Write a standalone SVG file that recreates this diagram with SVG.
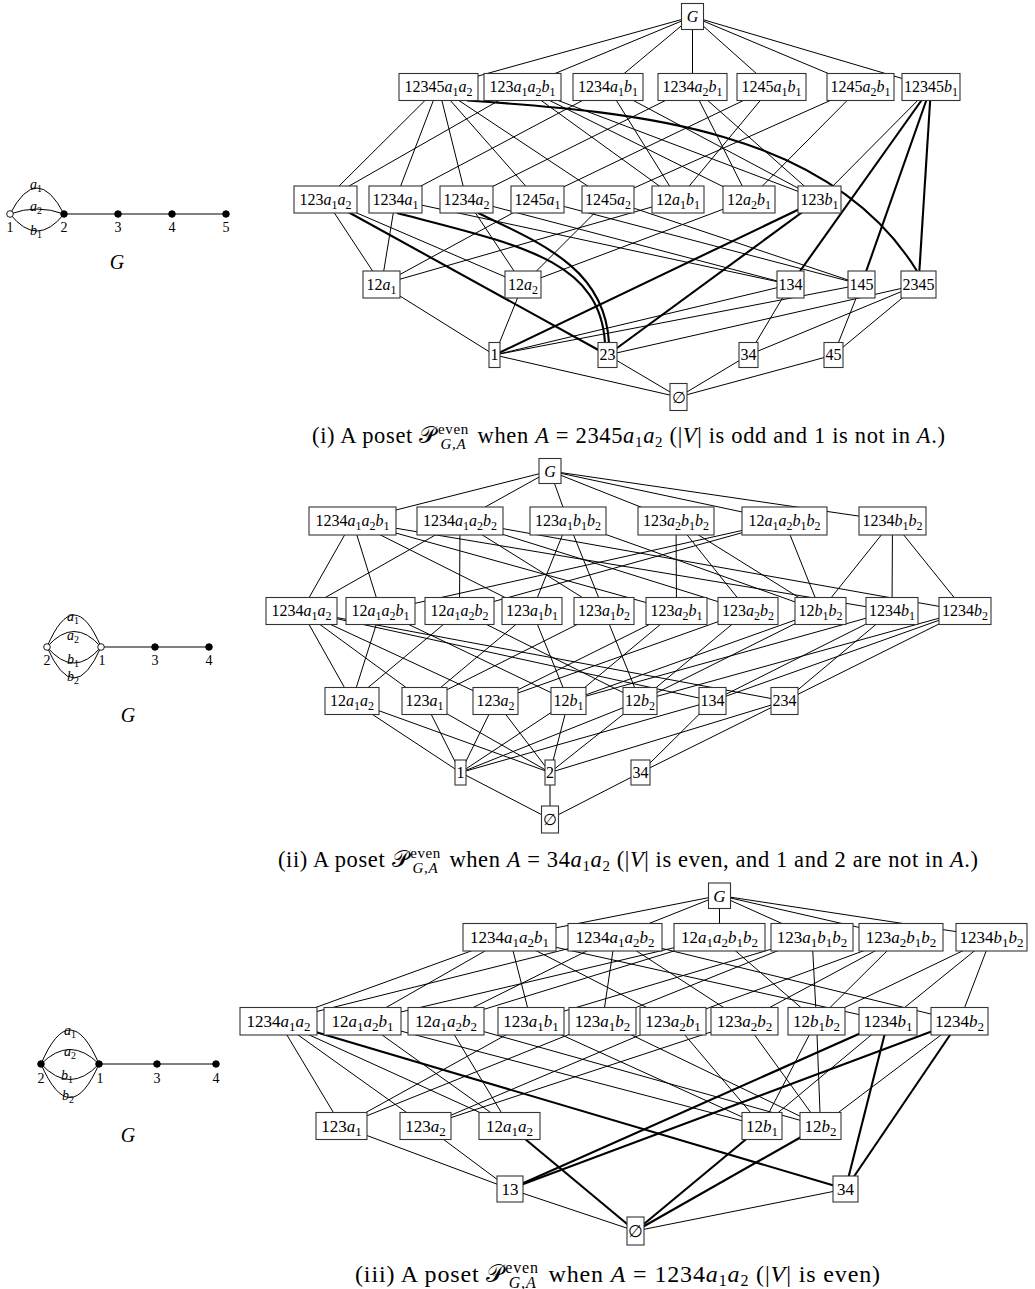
<svg xmlns="http://www.w3.org/2000/svg" width="1035" height="1289" viewBox="0 0 1035 1289">
<style>
.b{fill:#fff;stroke:#333;stroke-width:1.1}
.t{font-family:"Liberation Serif","DejaVu Serif",serif;font-size:16px;text-anchor:middle;fill:#000}
.t3{font-size:17px}
.i{font-style:italic}
.s{font-size:12px}
.t3 .s{font-size:13px}
.e line,.e path{stroke:#000;stroke-width:1;fill:none}
.e .k{stroke-width:2.1}
.cap{font-family:"Liberation Serif","DejaVu Serif",serif;font-size:22.5px;fill:#000}
.cap3{font-size:24px}
.cs{font-size:15px}
.cap3 .cs{font-size:16px}
.gl{font-family:"Liberation Serif","DejaVu Serif",serif;font-size:14px;text-anchor:middle;fill:#000}
.gs{font-size:10px}
.ge{stroke:#000;stroke-width:1;fill:none}
.ov{fill:#fff;stroke:#000;stroke-width:0.9}
.fv{fill:#000;stroke:#000;stroke-width:0.9}
</style>
<rect width="1035" height="1289" fill="#fff"/>

<!-- small graphs -->
<g id="graph-i">
<path class="ge" d="M10,214 Q37,162 64,214 M10,214 Q37,204 64,214 M10,214 Q37,248 64,214 M64,214 H226"/>
<circle class="ov" cx="10" cy="214" r="3.3"/><circle class="fv" cx="64" cy="214" r="3.3"/><circle class="fv" cx="118" cy="214" r="3.3"/><circle class="fv" cx="172" cy="214" r="3.3"/><circle class="fv" cx="226" cy="214" r="3.3"/>
<text class="gl" x="36" y="189"><tspan class="i">a</tspan><tspan class="gs" dy="3">1</tspan></text>
<text class="gl" x="36" y="211"><tspan class="i">a</tspan><tspan class="gs" dy="3">2</tspan></text>
<text class="gl" x="36" y="235"><tspan class="i">b</tspan><tspan class="gs" dy="3">1</tspan></text>
<text class="gl" x="10" y="232">1</text><text class="gl" x="64" y="232">2</text><text class="gl" x="118" y="232">3</text><text class="gl" x="172" y="232">4</text><text class="gl" x="226" y="232">5</text>
<text class="gl i" x="117" y="269" style="font-size:20px">G</text>
</g>
<g id="graph-ii">
<path class="ge" d="M47,647 Q74,583 101,647 M47,647 Q74,616 101,647 M47,647 Q74,679 101,647 M47,647 Q74,709 101,647 M101,647 H209"/>
<circle class="ov" cx="47" cy="647" r="3.3"/><circle class="ov" cx="101" cy="647" r="3.3"/><circle class="fv" cx="155" cy="647" r="3.3"/><circle class="fv" cx="209" cy="647" r="3.3"/>
<text class="gl" x="73" y="621"><tspan class="i">a</tspan><tspan class="gs" dy="3">1</tspan></text>
<text class="gl" x="73" y="640"><tspan class="i">a</tspan><tspan class="gs" dy="3">2</tspan></text>
<text class="gl" x="73" y="664"><tspan class="i">b</tspan><tspan class="gs" dy="3">1</tspan></text>
<text class="gl" x="73" y="681"><tspan class="i">b</tspan><tspan class="gs" dy="3">2</tspan></text>
<text class="gl" x="47" y="665">2</text><text class="gl" x="102" y="665">1</text><text class="gl" x="155" y="665">3</text><text class="gl" x="209" y="665">4</text>
<text class="gl i" x="128" y="722" style="font-size:20px">G</text>
</g>
<g id="graph-iii">
<path class="ge" d="M41,1064 Q70,996 99,1064 M41,1064 Q70,1035 99,1064 M41,1064 Q70,1095 99,1064 M41,1064 Q70,1131 99,1064 M99,1064 H216"/>
<circle class="fv" cx="41" cy="1064" r="3.3"/><circle class="fv" cx="99" cy="1064" r="3.3"/><circle class="fv" cx="157" cy="1064" r="3.3"/><circle class="fv" cx="216" cy="1064" r="3.3"/>
<text class="gl" x="70" y="1035"><tspan class="i">a</tspan><tspan class="gs" dy="3">1</tspan></text>
<text class="gl" x="70" y="1056"><tspan class="i">a</tspan><tspan class="gs" dy="3">2</tspan></text>
<text class="gl" x="67" y="1080"><tspan class="i">b</tspan><tspan class="gs" dy="3">1</tspan></text>
<text class="gl" x="68" y="1100"><tspan class="i">b</tspan><tspan class="gs" dy="3">2</tspan></text>
<text class="gl" x="41" y="1083">2</text><text class="gl" x="100" y="1083">1</text><text class="gl" x="157" y="1083">3</text><text class="gl" x="216" y="1083">4</text>
<text class="gl i" x="128" y="1142" style="font-size:20px">G</text>
</g>

<!-- connectors -->
<g id="connectors-i" class="e">
<line x1="692.5" y1="16.5" x2="438.5" y2="87"/><line x1="692.5" y1="16.5" x2="522.5" y2="87"/><line x1="692.5" y1="16.5" x2="608" y2="87"/><line x1="692.5" y1="16.5" x2="692.5" y2="87"/><line x1="692.5" y1="16.5" x2="771.5" y2="87"/><line x1="692.5" y1="16.5" x2="860.5" y2="87"/><line x1="692.5" y1="16.5" x2="931" y2="87"/>
<line x1="438.5" y1="87" x2="325.5" y2="199.5"/><line x1="438.5" y1="87" x2="395.5" y2="199.5"/><line x1="438.5" y1="87" x2="466.5" y2="199.5"/><line x1="438.5" y1="87" x2="537.5" y2="199.5"/><line x1="438.5" y1="87" x2="608" y2="199.5"/>
<line x1="522.5" y1="87" x2="325.5" y2="199.5"/><line x1="522.5" y1="87" x2="678" y2="199.5"/><line x1="522.5" y1="87" x2="749" y2="199.5"/><line x1="522.5" y1="87" x2="819.5" y2="199.5"/>
<line x1="608" y1="87" x2="395.5" y2="199.5"/><line x1="608" y1="87" x2="678" y2="199.5"/><line x1="608" y1="87" x2="819.5" y2="199.5"/>
<line x1="692.5" y1="87" x2="466.5" y2="199.5"/><line x1="692.5" y1="87" x2="749" y2="199.5"/><line x1="692.5" y1="87" x2="819.5" y2="199.5"/>
<line x1="771.5" y1="87" x2="537.5" y2="199.5"/><line x1="771.5" y1="87" x2="678" y2="199.5"/>
<line x1="860.5" y1="87" x2="608" y2="199.5"/><line x1="860.5" y1="87" x2="749" y2="199.5"/>
<line x1="931" y1="87" x2="819.5" y2="199.5"/>
<line x1="325.5" y1="199.5" x2="381.5" y2="284.5"/><line x1="325.5" y1="199.5" x2="523" y2="284.5"/>
<line x1="395.5" y1="199.5" x2="381.5" y2="284.5"/><line x1="395.5" y1="199.5" x2="790.5" y2="284.5"/>
<line x1="466.5" y1="199.5" x2="523" y2="284.5"/><line x1="466.5" y1="199.5" x2="790.5" y2="284.5"/>
<line x1="537.5" y1="199.5" x2="381.5" y2="284.5"/><line x1="537.5" y1="199.5" x2="861.5" y2="284.5"/>
<line x1="608" y1="199.5" x2="523" y2="284.5"/><line x1="608" y1="199.5" x2="861.5" y2="284.5"/>
<line x1="678" y1="199.5" x2="381.5" y2="284.5"/><line x1="749" y1="199.5" x2="523" y2="284.5"/>
<line x1="381.5" y1="284.5" x2="494.5" y2="355"/><line x1="523" y1="284.5" x2="494.5" y2="355"/>
<line x1="790.5" y1="284.5" x2="494.5" y2="355"/><line x1="790.5" y1="284.5" x2="748.5" y2="355"/>
<line x1="861.5" y1="284.5" x2="494.5" y2="355"/><line x1="861.5" y1="284.5" x2="833.5" y2="355"/>
<line x1="918.5" y1="284.5" x2="607.5" y2="355"/><line x1="918.5" y1="284.5" x2="748.5" y2="355"/><line x1="918.5" y1="284.5" x2="833.5" y2="355"/>
<line x1="494.5" y1="355" x2="678.5" y2="397"/><line x1="607.5" y1="355" x2="678.5" y2="397"/><line x1="748.5" y1="355" x2="678.5" y2="397"/><line x1="833.5" y1="355" x2="678.5" y2="397"/>
<path class="k" d="M467,100.5 C640,112 830,130 917,271"/>
<line class="k" x1="931" y1="87" x2="790.5" y2="284.5"/><line class="k" x1="931" y1="87" x2="861.5" y2="284.5"/><line class="k" x1="931" y1="87" x2="918.5" y2="284.5"/>
<line class="k" x1="325.5" y1="199.5" x2="607.5" y2="355"/>
<path class="k" d="M397,213 C520,245 600,260 605,343"/>
<path class="k" d="M478,213 C545,245 605,270 609,343"/>
<line class="k" x1="819.5" y1="199.5" x2="494.5" y2="355"/><line class="k" x1="819.5" y1="199.5" x2="607.5" y2="355"/>
</g>

<g id="connectors-ii" class="e">
<line x1="550" y1="471" x2="352.5" y2="521"/><line x1="550" y1="471" x2="460" y2="521"/><line x1="550" y1="471" x2="568" y2="521"/><line x1="550" y1="471" x2="676" y2="521"/><line x1="550" y1="471" x2="784.5" y2="521"/><line x1="550" y1="471" x2="892.5" y2="521"/>
<line x1="352.5" y1="521" x2="301.5" y2="611"/><line x1="352.5" y1="521" x2="380.5" y2="611"/><line x1="352.5" y1="521" x2="532" y2="611"/><line x1="352.5" y1="521" x2="676.5" y2="611"/><line x1="352.5" y1="521" x2="892" y2="611"/>
<line x1="460" y1="521" x2="301.5" y2="611"/><line x1="460" y1="521" x2="459.5" y2="611"/><line x1="460" y1="521" x2="604" y2="611"/><line x1="460" y1="521" x2="748" y2="611"/><line x1="460" y1="521" x2="965" y2="611"/>
<line x1="568" y1="521" x2="532" y2="611"/><line x1="568" y1="521" x2="604" y2="611"/><line x1="568" y1="521" x2="820.5" y2="611"/>
<line x1="676" y1="521" x2="676.5" y2="611"/><line x1="676" y1="521" x2="748" y2="611"/><line x1="676" y1="521" x2="820.5" y2="611"/>
<line x1="784.5" y1="521" x2="380.5" y2="611"/><line x1="784.5" y1="521" x2="459.5" y2="611"/><line x1="784.5" y1="521" x2="820.5" y2="611"/>
<line x1="892.5" y1="521" x2="820.5" y2="611"/><line x1="892.5" y1="521" x2="892" y2="611"/><line x1="892.5" y1="521" x2="965" y2="611"/>
<line x1="301.5" y1="611" x2="352" y2="701"/><line x1="301.5" y1="611" x2="424.5" y2="701"/><line x1="301.5" y1="611" x2="495.5" y2="701"/><line x1="301.5" y1="611" x2="712.5" y2="701"/><line x1="301.5" y1="611" x2="784.5" y2="701"/>
<line x1="380.5" y1="611" x2="352" y2="701"/><line x1="380.5" y1="611" x2="568.5" y2="701"/>
<line x1="459.5" y1="611" x2="352" y2="701"/><line x1="459.5" y1="611" x2="640" y2="701"/>
<line x1="532" y1="611" x2="424.5" y2="701"/><line x1="532" y1="611" x2="568.5" y2="701"/>
<line x1="604" y1="611" x2="424.5" y2="701"/><line x1="604" y1="611" x2="640" y2="701"/>
<line x1="676.5" y1="611" x2="495.5" y2="701"/><line x1="676.5" y1="611" x2="568.5" y2="701"/>
<line x1="748" y1="611" x2="495.5" y2="701"/><line x1="748" y1="611" x2="640" y2="701"/>
<line x1="820.5" y1="611" x2="568.5" y2="701"/><line x1="820.5" y1="611" x2="640" y2="701"/>
<line x1="892" y1="611" x2="568.5" y2="701"/><line x1="892" y1="611" x2="712.5" y2="701"/><line x1="892" y1="611" x2="784.5" y2="701"/>
<line x1="965" y1="611" x2="640" y2="701"/><line x1="965" y1="611" x2="712.5" y2="701"/><line x1="965" y1="611" x2="784.5" y2="701"/>
<line x1="352" y1="701" x2="460.5" y2="772.5"/><line x1="352" y1="701" x2="550" y2="772.5"/>
<line x1="424.5" y1="701" x2="460.5" y2="772.5"/><line x1="424.5" y1="701" x2="550" y2="772.5"/>
<line x1="495.5" y1="701" x2="460.5" y2="772.5"/><line x1="495.5" y1="701" x2="550" y2="772.5"/>
<line x1="568.5" y1="701" x2="460.5" y2="772.5"/><line x1="568.5" y1="701" x2="550" y2="772.5"/>
<line x1="640" y1="701" x2="460.5" y2="772.5"/><line x1="640" y1="701" x2="550" y2="772.5"/>
<line x1="712.5" y1="701" x2="460.5" y2="772.5"/><line x1="712.5" y1="701" x2="640.5" y2="772.5"/>
<line x1="784.5" y1="701" x2="550" y2="772.5"/><line x1="784.5" y1="701" x2="640.5" y2="772.5"/>
<line x1="460.5" y1="772.5" x2="550" y2="819"/><line x1="550" y1="772.5" x2="550" y2="819"/><line x1="640.5" y1="772.5" x2="550" y2="819"/>
</g>

<g id="connectors-iii" class="e">
<line x1="719.5" y1="895.5" x2="509.5" y2="937"/><line x1="719.5" y1="895.5" x2="615" y2="937"/><line x1="719.5" y1="895.5" x2="719.5" y2="937"/><line x1="719.5" y1="895.5" x2="812" y2="937"/><line x1="719.5" y1="895.5" x2="901" y2="937"/><line x1="719.5" y1="895.5" x2="991.5" y2="937"/>
<line x1="509.5" y1="937" x2="278.5" y2="1021"/><line x1="509.5" y1="937" x2="362.5" y2="1021"/><line x1="509.5" y1="937" x2="531" y2="1021"/><line x1="509.5" y1="937" x2="673" y2="1021"/><line x1="509.5" y1="937" x2="888" y2="1021"/>
<line x1="615" y1="937" x2="278.5" y2="1021"/><line x1="615" y1="937" x2="446" y2="1021"/><line x1="615" y1="937" x2="602.5" y2="1021"/><line x1="615" y1="937" x2="744.5" y2="1021"/><line x1="615" y1="937" x2="959.5" y2="1021"/>
<line x1="719.5" y1="937" x2="362.5" y2="1021"/><line x1="719.5" y1="937" x2="446" y2="1021"/><line x1="719.5" y1="937" x2="816.5" y2="1021"/>
<line x1="812" y1="937" x2="531" y2="1021"/><line x1="812" y1="937" x2="602.5" y2="1021"/><line x1="812" y1="937" x2="816.5" y2="1021"/>
<line x1="901" y1="937" x2="673" y2="1021"/><line x1="901" y1="937" x2="744.5" y2="1021"/><line x1="901" y1="937" x2="816.5" y2="1021"/>
<line x1="991.5" y1="937" x2="816.5" y2="1021"/><line x1="991.5" y1="937" x2="888" y2="1021"/><line x1="991.5" y1="937" x2="959.5" y2="1021"/>
<line x1="278.5" y1="1021" x2="341.5" y2="1126"/><line x1="278.5" y1="1021" x2="425.5" y2="1126"/><line x1="278.5" y1="1021" x2="509.5" y2="1126"/>
<line x1="362.5" y1="1021" x2="509.5" y2="1126"/><line x1="362.5" y1="1021" x2="762" y2="1126"/>
<line x1="446" y1="1021" x2="509.5" y2="1126"/><line x1="446" y1="1021" x2="820.5" y2="1126"/>
<line x1="531" y1="1021" x2="341.5" y2="1126"/><line x1="531" y1="1021" x2="762" y2="1126"/>
<line x1="602.5" y1="1021" x2="341.5" y2="1126"/><line x1="602.5" y1="1021" x2="820.5" y2="1126"/>
<line x1="673" y1="1021" x2="425.5" y2="1126"/><line x1="673" y1="1021" x2="762" y2="1126"/>
<line x1="744.5" y1="1021" x2="425.5" y2="1126"/><line x1="744.5" y1="1021" x2="820.5" y2="1126"/>
<line x1="816.5" y1="1021" x2="762" y2="1126"/><line x1="816.5" y1="1021" x2="820.5" y2="1126"/>
<line x1="888" y1="1021" x2="762" y2="1126"/><line x1="959.5" y1="1021" x2="820.5" y2="1126"/>
<line x1="341.5" y1="1126" x2="510" y2="1189"/><line x1="425.5" y1="1126" x2="510" y2="1189"/>
<line x1="510" y1="1189" x2="635.5" y2="1231"/><line x1="845.5" y1="1189" x2="635.5" y2="1231"/>
<line class="k" x1="278.5" y1="1021" x2="845.5" y2="1189"/>
<line class="k" x1="888" y1="1021" x2="510" y2="1189"/><line class="k" x1="888" y1="1021" x2="845.5" y2="1189"/>
<line class="k" x1="959.5" y1="1021" x2="510" y2="1189"/><line class="k" x1="959.5" y1="1021" x2="845.5" y2="1189"/>
<line class="k" x1="509.5" y1="1126" x2="635.5" y2="1231"/><line class="k" x1="762" y1="1126" x2="635.5" y2="1231"/><line class="k" x1="820.5" y1="1126" x2="635.5" y2="1231"/>
</g>

<!-- nodes panel i -->
<g id="i-G"><rect class="b" x="681.5" y="3.5" width="22" height="26"/><text class="t" x="692.5" y="22"><tspan class="i">G</tspan></text></g>
<g id="i-12345a1a2"><rect class="b" x="399" y="73.5" width="79" height="27"/><text class="t" x="438.5" y="92">12345<tspan class="i">a</tspan><tspan class="s" dy="4">1</tspan><tspan class="i" dy="-4">a</tspan><tspan class="s" dy="4">2</tspan></text></g>
<g id="i-123a1a2b1"><rect class="b" x="484" y="73.5" width="77" height="27"/><text class="t" x="522.5" y="92">123<tspan class="i">a</tspan><tspan class="s" dy="4">1</tspan><tspan class="i" dy="-4">a</tspan><tspan class="s" dy="4">2</tspan><tspan class="i" dy="-4">b</tspan><tspan class="s" dy="4">1</tspan></text></g>
<g id="i-1234a1b1"><rect class="b" x="573" y="73.5" width="70" height="27"/><text class="t" x="608" y="92">1234<tspan class="i">a</tspan><tspan class="s" dy="4">1</tspan><tspan class="i" dy="-4">b</tspan><tspan class="s" dy="4">1</tspan></text></g>
<g id="i-1234a2b1"><rect class="b" x="658" y="73.5" width="69" height="27"/><text class="t" x="692.5" y="92">1234<tspan class="i">a</tspan><tspan class="s" dy="4">2</tspan><tspan class="i" dy="-4">b</tspan><tspan class="s" dy="4">1</tspan></text></g>
<g id="i-1245a1b1"><rect class="b" x="737" y="73.5" width="69" height="27"/><text class="t" x="771.5" y="92">1245<tspan class="i">a</tspan><tspan class="s" dy="4">1</tspan><tspan class="i" dy="-4">b</tspan><tspan class="s" dy="4">1</tspan></text></g>
<g id="i-1245a2b1"><rect class="b" x="827" y="73.5" width="67" height="27"/><text class="t" x="860.5" y="92">1245<tspan class="i">a</tspan><tspan class="s" dy="4">2</tspan><tspan class="i" dy="-4">b</tspan><tspan class="s" dy="4">1</tspan></text></g>
<g id="i-12345b1"><rect class="b" x="902" y="73.5" width="58" height="27"/><text class="t" x="931" y="92">12345<tspan class="i">b</tspan><tspan class="s" dy="4">1</tspan></text></g>
<g id="i-123a1a2"><rect class="b" x="294" y="186" width="63" height="27"/><text class="t" x="325.5" y="204.5">123<tspan class="i">a</tspan><tspan class="s" dy="4">1</tspan><tspan class="i" dy="-4">a</tspan><tspan class="s" dy="4">2</tspan></text></g>
<g id="i-1234a1"><rect class="b" x="369" y="186" width="53" height="27"/><text class="t" x="395.5" y="204.5">1234<tspan class="i">a</tspan><tspan class="s" dy="4">1</tspan></text></g>
<g id="i-1234a2"><rect class="b" x="440" y="186" width="53" height="27"/><text class="t" x="466.5" y="204.5">1234<tspan class="i">a</tspan><tspan class="s" dy="4">2</tspan></text></g>
<g id="i-1245a1"><rect class="b" x="511" y="186" width="53" height="27"/><text class="t" x="537.5" y="204.5">1245<tspan class="i">a</tspan><tspan class="s" dy="4">1</tspan></text></g>
<g id="i-1245a2"><rect class="b" x="582" y="186" width="52" height="27"/><text class="t" x="608" y="204.5">1245<tspan class="i">a</tspan><tspan class="s" dy="4">2</tspan></text></g>
<g id="i-12a1b1"><rect class="b" x="652" y="186" width="52" height="27"/><text class="t" x="678" y="204.5">12<tspan class="i">a</tspan><tspan class="s" dy="4">1</tspan><tspan class="i" dy="-4">b</tspan><tspan class="s" dy="4">1</tspan></text></g>
<g id="i-12a2b1"><rect class="b" x="723" y="186" width="52" height="27"/><text class="t" x="749" y="204.5">12<tspan class="i">a</tspan><tspan class="s" dy="4">2</tspan><tspan class="i" dy="-4">b</tspan><tspan class="s" dy="4">1</tspan></text></g>
<g id="i-123b1"><rect class="b" x="798" y="186" width="43" height="27"/><text class="t" x="819.5" y="204.5">123<tspan class="i">b</tspan><tspan class="s" dy="4">1</tspan></text></g>
<g id="i-12a1"><rect class="b" x="363" y="271" width="37" height="27"/><text class="t" x="381.5" y="289.5">12<tspan class="i">a</tspan><tspan class="s" dy="4">1</tspan></text></g>
<g id="i-12a2"><rect class="b" x="505" y="271" width="36" height="27"/><text class="t" x="523" y="289.5">12<tspan class="i">a</tspan><tspan class="s" dy="4">2</tspan></text></g>
<g id="i-134"><rect class="b" x="777" y="271" width="27" height="27"/><text class="t" x="790.5" y="289.5">134</text></g>
<g id="i-145"><rect class="b" x="848" y="271" width="27" height="27"/><text class="t" x="861.5" y="289.5">145</text></g>
<g id="i-2345"><rect class="b" x="901" y="271" width="35" height="27"/><text class="t" x="918.5" y="289.5">2345</text></g>
<g id="i-1"><rect class="b" x="489" y="342.5" width="11" height="25"/><text class="t" x="494.5" y="360">1</text></g>
<g id="i-23"><rect class="b" x="598" y="342.5" width="19" height="25"/><text class="t" x="607.5" y="360">23</text></g>
<g id="i-34"><rect class="b" x="739" y="342.5" width="19" height="25"/><text class="t" x="748.5" y="360">34</text></g>
<g id="i-45"><rect class="b" x="824" y="342.5" width="19" height="25"/><text class="t" x="833.5" y="360">45</text></g>
<g id="i-empty"><rect class="b" x="670" y="383.5" width="17" height="27"/><text class="t" x="678.5" y="402.5">∅</text></g>

<!-- nodes panel ii -->
<g id="ii-G"><rect class="b" x="539" y="458.5" width="22" height="25"/><text class="t" x="550" y="476.5"><tspan class="i">G</tspan></text></g>
<g id="ii-1234a1a2b1"><rect class="b" x="309" y="507" width="87" height="28"/><text class="t" x="352.5" y="526">1234<tspan class="i">a</tspan><tspan class="s" dy="4">1</tspan><tspan class="i" dy="-4">a</tspan><tspan class="s" dy="4">2</tspan><tspan class="i" dy="-4">b</tspan><tspan class="s" dy="4">1</tspan></text></g>
<g id="ii-1234a1a2b2"><rect class="b" x="417" y="507" width="86" height="28"/><text class="t" x="460" y="526">1234<tspan class="i">a</tspan><tspan class="s" dy="4">1</tspan><tspan class="i" dy="-4">a</tspan><tspan class="s" dy="4">2</tspan><tspan class="i" dy="-4">b</tspan><tspan class="s" dy="4">2</tspan></text></g>
<g id="ii-123a1b1b2"><rect class="b" x="530" y="507" width="76" height="28"/><text class="t" x="568" y="526">123<tspan class="i">a</tspan><tspan class="s" dy="4">1</tspan><tspan class="i" dy="-4">b</tspan><tspan class="s" dy="4">1</tspan><tspan class="i" dy="-4">b</tspan><tspan class="s" dy="4">2</tspan></text></g>
<g id="ii-123a2b1b2"><rect class="b" x="638" y="507" width="76" height="28"/><text class="t" x="676" y="526">123<tspan class="i">a</tspan><tspan class="s" dy="4">2</tspan><tspan class="i" dy="-4">b</tspan><tspan class="s" dy="4">1</tspan><tspan class="i" dy="-4">b</tspan><tspan class="s" dy="4">2</tspan></text></g>
<g id="ii-12a1a2b1b2"><rect class="b" x="742" y="507" width="85" height="28"/><text class="t" x="784.5" y="526">12<tspan class="i">a</tspan><tspan class="s" dy="4">1</tspan><tspan class="i" dy="-4">a</tspan><tspan class="s" dy="4">2</tspan><tspan class="i" dy="-4">b</tspan><tspan class="s" dy="4">1</tspan><tspan class="i" dy="-4">b</tspan><tspan class="s" dy="4">2</tspan></text></g>
<g id="ii-1234b1b2"><rect class="b" x="859" y="507" width="67" height="28"/><text class="t" x="892.5" y="526">1234<tspan class="i">b</tspan><tspan class="s" dy="4">1</tspan><tspan class="i" dy="-4">b</tspan><tspan class="s" dy="4">2</tspan></text></g>
<g id="ii-1234a1a2"><rect class="b" x="266" y="597.5" width="71" height="27"/><text class="t" x="301.5" y="616">1234<tspan class="i">a</tspan><tspan class="s" dy="4">1</tspan><tspan class="i" dy="-4">a</tspan><tspan class="s" dy="4">2</tspan></text></g>
<g id="ii-12a1a2b1"><rect class="b" x="346" y="597.5" width="69" height="27"/><text class="t" x="380.5" y="616">12<tspan class="i">a</tspan><tspan class="s" dy="4">1</tspan><tspan class="i" dy="-4">a</tspan><tspan class="s" dy="4">2</tspan><tspan class="i" dy="-4">b</tspan><tspan class="s" dy="4">1</tspan></text></g>
<g id="ii-12a1a2b2"><rect class="b" x="425" y="597.5" width="69" height="27"/><text class="t" x="459.5" y="616">12<tspan class="i">a</tspan><tspan class="s" dy="4">1</tspan><tspan class="i" dy="-4">a</tspan><tspan class="s" dy="4">2</tspan><tspan class="i" dy="-4">b</tspan><tspan class="s" dy="4">2</tspan></text></g>
<g id="ii-123a1b1"><rect class="b" x="502" y="597.5" width="60" height="27"/><text class="t" x="532" y="616">123<tspan class="i">a</tspan><tspan class="s" dy="4">1</tspan><tspan class="i" dy="-4">b</tspan><tspan class="s" dy="4">1</tspan></text></g>
<g id="ii-123a1b2"><rect class="b" x="574" y="597.5" width="60" height="27"/><text class="t" x="604" y="616">123<tspan class="i">a</tspan><tspan class="s" dy="4">1</tspan><tspan class="i" dy="-4">b</tspan><tspan class="s" dy="4">2</tspan></text></g>
<g id="ii-123a2b1"><rect class="b" x="646" y="597.5" width="61" height="27"/><text class="t" x="676.5" y="616">123<tspan class="i">a</tspan><tspan class="s" dy="4">2</tspan><tspan class="i" dy="-4">b</tspan><tspan class="s" dy="4">1</tspan></text></g>
<g id="ii-123a2b2"><rect class="b" x="718" y="597.5" width="60" height="27"/><text class="t" x="748" y="616">123<tspan class="i">a</tspan><tspan class="s" dy="4">2</tspan><tspan class="i" dy="-4">b</tspan><tspan class="s" dy="4">2</tspan></text></g>
<g id="ii-12b1b2"><rect class="b" x="795" y="597.5" width="51" height="27"/><text class="t" x="820.5" y="616">12<tspan class="i">b</tspan><tspan class="s" dy="4">1</tspan><tspan class="i" dy="-4">b</tspan><tspan class="s" dy="4">2</tspan></text></g>
<g id="ii-1234b1"><rect class="b" x="866" y="597.5" width="52" height="27"/><text class="t" x="892" y="616">1234<tspan class="i">b</tspan><tspan class="s" dy="4">1</tspan></text></g>
<g id="ii-1234b2"><rect class="b" x="939" y="597.5" width="52" height="27"/><text class="t" x="965" y="616">1234<tspan class="i">b</tspan><tspan class="s" dy="4">2</tspan></text></g>
<g id="ii-12a1a2"><rect class="b" x="325" y="687.5" width="54" height="27"/><text class="t" x="352" y="706">12<tspan class="i">a</tspan><tspan class="s" dy="4">1</tspan><tspan class="i" dy="-4">a</tspan><tspan class="s" dy="4">2</tspan></text></g>
<g id="ii-123a1"><rect class="b" x="402" y="687.5" width="45" height="27"/><text class="t" x="424.5" y="706">123<tspan class="i">a</tspan><tspan class="s" dy="4">1</tspan></text></g>
<g id="ii-123a2"><rect class="b" x="473" y="687.5" width="45" height="27"/><text class="t" x="495.5" y="706">123<tspan class="i">a</tspan><tspan class="s" dy="4">2</tspan></text></g>
<g id="ii-12b1"><rect class="b" x="551" y="687.5" width="35" height="27"/><text class="t" x="568.5" y="706">12<tspan class="i">b</tspan><tspan class="s" dy="4">1</tspan></text></g>
<g id="ii-12b2"><rect class="b" x="623" y="687.5" width="34" height="27"/><text class="t" x="640" y="706">12<tspan class="i">b</tspan><tspan class="s" dy="4">2</tspan></text></g>
<g id="ii-134"><rect class="b" x="699" y="687.5" width="27" height="27"/><text class="t" x="712.5" y="706">134</text></g>
<g id="ii-234"><rect class="b" x="771" y="687.5" width="27" height="27"/><text class="t" x="784.5" y="706">234</text></g>
<g id="ii-1"><rect class="b" x="455" y="760" width="11" height="25"/><text class="t" x="460.5" y="777.5">1</text></g>
<g id="ii-2"><rect class="b" x="545" y="760" width="10" height="25"/><text class="t" x="550" y="777.5">2</text></g>
<g id="ii-34"><rect class="b" x="631" y="760" width="19" height="25"/><text class="t" x="640.5" y="777.5">34</text></g>
<g id="ii-empty"><rect class="b" x="541.5" y="806" width="17" height="27"/><text class="t" x="550" y="825">∅</text></g>

<!-- nodes panel iii -->
<g id="iii-G"><rect class="b" x="708.5" y="883" width="22" height="25.5"/><text class="t t3" x="719.5" y="901.5"><tspan class="i">G</tspan></text></g>
<g id="iii-1234a1a2b1"><rect class="b" x="463" y="923.5" width="93" height="27.5"/><text class="t t3" x="509.5" y="943">1234<tspan class="i">a</tspan><tspan class="s" dy="4">1</tspan><tspan class="i" dy="-4">a</tspan><tspan class="s" dy="4">2</tspan><tspan class="i" dy="-4">b</tspan><tspan class="s" dy="4">1</tspan></text></g>
<g id="iii-1234a1a2b2"><rect class="b" x="568" y="923.5" width="94" height="27.5"/><text class="t t3" x="615" y="943">1234<tspan class="i">a</tspan><tspan class="s" dy="4">1</tspan><tspan class="i" dy="-4">a</tspan><tspan class="s" dy="4">2</tspan><tspan class="i" dy="-4">b</tspan><tspan class="s" dy="4">2</tspan></text></g>
<g id="iii-12a1a2b1b2"><rect class="b" x="674" y="923.5" width="91" height="27.5"/><text class="t t3" x="719.5" y="943">12<tspan class="i">a</tspan><tspan class="s" dy="4">1</tspan><tspan class="i" dy="-4">a</tspan><tspan class="s" dy="4">2</tspan><tspan class="i" dy="-4">b</tspan><tspan class="s" dy="4">1</tspan><tspan class="i" dy="-4">b</tspan><tspan class="s" dy="4">2</tspan></text></g>
<g id="iii-123a1b1b2"><rect class="b" x="771" y="923.5" width="82" height="27.5"/><text class="t t3" x="812" y="943">123<tspan class="i">a</tspan><tspan class="s" dy="4">1</tspan><tspan class="i" dy="-4">b</tspan><tspan class="s" dy="4">1</tspan><tspan class="i" dy="-4">b</tspan><tspan class="s" dy="4">2</tspan></text></g>
<g id="iii-123a2b1b2"><rect class="b" x="859" y="923.5" width="84" height="27.5"/><text class="t t3" x="901" y="943">123<tspan class="i">a</tspan><tspan class="s" dy="4">2</tspan><tspan class="i" dy="-4">b</tspan><tspan class="s" dy="4">1</tspan><tspan class="i" dy="-4">b</tspan><tspan class="s" dy="4">2</tspan></text></g>
<g id="iii-1234b1b2"><rect class="b" x="956" y="923.5" width="71" height="27.5"/><text class="t t3" x="991.5" y="943">1234<tspan class="i">b</tspan><tspan class="s" dy="4">1</tspan><tspan class="i" dy="-4">b</tspan><tspan class="s" dy="4">2</tspan></text></g>
<g id="iii-1234a1a2"><rect class="b" x="240" y="1007.5" width="77" height="27.5"/><text class="t t3" x="278.5" y="1027">1234<tspan class="i">a</tspan><tspan class="s" dy="4">1</tspan><tspan class="i" dy="-4">a</tspan><tspan class="s" dy="4">2</tspan></text></g>
<g id="iii-12a1a2b1"><rect class="b" x="324" y="1007.5" width="77" height="27.5"/><text class="t t3" x="362.5" y="1027">12<tspan class="i">a</tspan><tspan class="s" dy="4">1</tspan><tspan class="i" dy="-4">a</tspan><tspan class="s" dy="4">2</tspan><tspan class="i" dy="-4">b</tspan><tspan class="s" dy="4">1</tspan></text></g>
<g id="iii-12a1a2b2"><rect class="b" x="408" y="1007.5" width="76" height="27.5"/><text class="t t3" x="446" y="1027">12<tspan class="i">a</tspan><tspan class="s" dy="4">1</tspan><tspan class="i" dy="-4">a</tspan><tspan class="s" dy="4">2</tspan><tspan class="i" dy="-4">b</tspan><tspan class="s" dy="4">2</tspan></text></g>
<g id="iii-123a1b1"><rect class="b" x="498" y="1007.5" width="66" height="27.5"/><text class="t t3" x="531" y="1027">123<tspan class="i">a</tspan><tspan class="s" dy="4">1</tspan><tspan class="i" dy="-4">b</tspan><tspan class="s" dy="4">1</tspan></text></g>
<g id="iii-123a1b2"><rect class="b" x="569" y="1007.5" width="67" height="27.5"/><text class="t t3" x="602.5" y="1027">123<tspan class="i">a</tspan><tspan class="s" dy="4">1</tspan><tspan class="i" dy="-4">b</tspan><tspan class="s" dy="4">2</tspan></text></g>
<g id="iii-123a2b1"><rect class="b" x="640" y="1007.5" width="66" height="27.5"/><text class="t t3" x="673" y="1027">123<tspan class="i">a</tspan><tspan class="s" dy="4">2</tspan><tspan class="i" dy="-4">b</tspan><tspan class="s" dy="4">1</tspan></text></g>
<g id="iii-123a2b2"><rect class="b" x="711" y="1007.5" width="67" height="27.5"/><text class="t t3" x="744.5" y="1027">123<tspan class="i">a</tspan><tspan class="s" dy="4">2</tspan><tspan class="i" dy="-4">b</tspan><tspan class="s" dy="4">2</tspan></text></g>
<g id="iii-12b1b2"><rect class="b" x="788" y="1007.5" width="57" height="27.5"/><text class="t t3" x="816.5" y="1027">12<tspan class="i">b</tspan><tspan class="s" dy="4">1</tspan><tspan class="i" dy="-4">b</tspan><tspan class="s" dy="4">2</tspan></text></g>
<g id="iii-1234b1"><rect class="b" x="859" y="1007.5" width="58" height="27.5"/><text class="t t3" x="888" y="1027">1234<tspan class="i">b</tspan><tspan class="s" dy="4">1</tspan></text></g>
<g id="iii-1234b2"><rect class="b" x="931" y="1007.5" width="57" height="27.5"/><text class="t t3" x="959.5" y="1027">1234<tspan class="i">b</tspan><tspan class="s" dy="4">2</tspan></text></g>
<g id="iii-123a1"><rect class="b" x="316" y="1112.5" width="51" height="27"/><text class="t t3" x="341.5" y="1131.5">123<tspan class="i">a</tspan><tspan class="s" dy="4">1</tspan></text></g>
<g id="iii-123a2"><rect class="b" x="400" y="1112.5" width="51" height="27"/><text class="t t3" x="425.5" y="1131.5">123<tspan class="i">a</tspan><tspan class="s" dy="4">2</tspan></text></g>
<g id="iii-12a1a2"><rect class="b" x="479" y="1112.5" width="61" height="27"/><text class="t t3" x="509.5" y="1131.5">12<tspan class="i">a</tspan><tspan class="s" dy="4">1</tspan><tspan class="i" dy="-4">a</tspan><tspan class="s" dy="4">2</tspan></text></g>
<g id="iii-12b1"><rect class="b" x="742" y="1112.5" width="40" height="27"/><text class="t t3" x="762" y="1131.5">12<tspan class="i">b</tspan><tspan class="s" dy="4">1</tspan></text></g>
<g id="iii-12b2"><rect class="b" x="800" y="1112.5" width="41" height="27"/><text class="t t3" x="820.5" y="1131.5">12<tspan class="i">b</tspan><tspan class="s" dy="4">2</tspan></text></g>
<g id="iii-13"><rect class="b" x="497" y="1176" width="26" height="26"/><text class="t t3" x="510" y="1195">13</text></g>
<g id="iii-34"><rect class="b" x="833" y="1176" width="25" height="26"/><text class="t t3" x="845.5" y="1195">34</text></g>
<g id="iii-empty"><rect class="b" x="627" y="1217" width="17" height="28"/><text class="t t3" x="635.5" y="1237">∅</text></g>

<!-- captions -->
<text class="cap" x="312" y="443" textLength="633" lengthAdjust="spacing">(i) A poset 𝒫<tspan class="cs" dx="1" dy="-9">even</tspan><tspan class="cs i" dx="-28.3" dy="15">G,A</tspan><tspan dx="5" dy="-6"> when </tspan><tspan class="i">A</tspan> = 2345<tspan class="i">a</tspan><tspan class="cs" dy="4">1</tspan><tspan class="i" dy="-4">a</tspan><tspan class="cs" dy="4">2</tspan><tspan dy="-4"> (|</tspan><tspan class="i">V</tspan>| is odd and 1 is not in <tspan class="i">A</tspan>.)</text>
<text class="cap" x="278" y="867" textLength="700" lengthAdjust="spacing">(ii) A poset 𝒫<tspan class="cs" dx="1" dy="-9">even</tspan><tspan class="cs i" dx="-28.3" dy="15">G,A</tspan><tspan dx="5" dy="-6"> when </tspan><tspan class="i">A</tspan> = 34<tspan class="i">a</tspan><tspan class="cs" dy="4">1</tspan><tspan class="i" dy="-4">a</tspan><tspan class="cs" dy="4">2</tspan><tspan dy="-4"> (|</tspan><tspan class="i">V</tspan>| is even, and 1 and 2 are not in <tspan class="i">A</tspan>.)</text>
<text class="cap cap3" x="355" y="1282" textLength="525" lengthAdjust="spacing">(iii) A poset 𝒫<tspan class="cs" dx="1" dy="-9">even</tspan><tspan class="cs i" dx="-30.2" dy="15">G,A</tspan><tspan dx="5" dy="-6"> when </tspan><tspan class="i">A</tspan> = 1234<tspan class="i">a</tspan><tspan class="cs" dy="4">1</tspan><tspan class="i" dy="-4">a</tspan><tspan class="cs" dy="4">2</tspan><tspan dy="-4"> (|</tspan><tspan class="i">V</tspan>| is even)</text>
</svg>
